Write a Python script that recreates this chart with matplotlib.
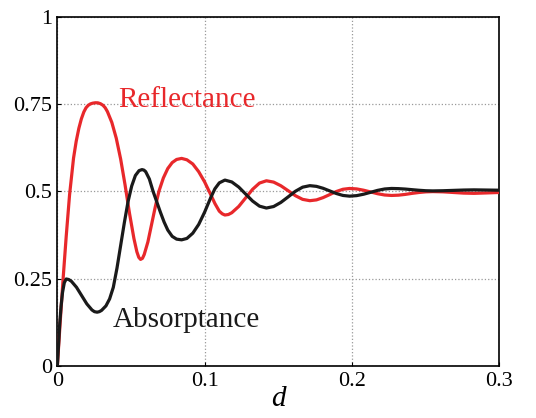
import matplotlib
matplotlib.use('Agg')
import matplotlib.pyplot as plt

# values
refl_x = [0.0, 0.001, 0.002, 0.004, 0.006, 0.0083, 0.011, 0.0128, 0.0146, 0.0163,
          0.018, 0.0195, 0.021, 0.0225, 0.024, 0.0258, 0.0275, 0.0293, 0.031, 0.0325,
          0.034, 0.037, 0.040, 0.043, 0.046, 0.049, 0.052,
          0.054, 0.0553, 0.0565, 0.0578, 0.059, 0.0615, 0.064, 0.0665, 0.069, 0.072, 0.075, 0.078,
          0.081, 0.0844, 0.088, 0.092, 0.096, 0.100, 0.104, 0.107, 0.110, 0.112, 0.1138,
          0.1162, 0.1185, 0.1232, 0.1279, 0.1326, 0.1373, 0.142,
          0.1469, 0.1518, 0.1568, 0.1617, 0.1666, 0.1715,
          0.176, 0.1805, 0.185, 0.1895, 0.194, 0.1985,
          0.2033, 0.208, 0.2128, 0.2175, 0.2223, 0.227,
          0.2317, 0.2363, 0.241, 0.2457, 0.2503, 0.255,
          0.262, 0.269, 0.276, 0.283, 0.2915, 0.3]
refl_y = [0.0, 0.065, 0.13, 0.255, 0.37, 0.49, 0.595, 0.643, 0.68, 0.707,
          0.727, 0.739, 0.746, 0.750, 0.752, 0.7532, 0.753, 0.7505, 0.746, 0.739,
          0.728, 0.697, 0.652, 0.592, 0.518, 0.437, 0.365,
          0.327, 0.311, 0.305, 0.308, 0.319, 0.355, 0.405, 0.455, 0.500, 0.538, 0.565, 0.582,
          0.591, 0.594, 0.590, 0.578, 0.556, 0.527, 0.492, 0.465, 0.443, 0.4355, 0.432,
          0.4335, 0.4386, 0.4565, 0.481, 0.5055, 0.5234, 0.530,
          0.5262, 0.5158, 0.5015, 0.4873, 0.4768, 0.473,
          0.4753, 0.4818, 0.4905, 0.4993, 0.5057, 0.508,
          0.5067, 0.503, 0.498, 0.493, 0.4893, 0.488,
          0.4888, 0.491, 0.494, 0.4965, 0.4983, 0.499,
          0.4983, 0.4965, 0.4947, 0.494, 0.4952, 0.4965]

abs_x = [0.0, 0.0008, 0.0016, 0.0025, 0.0035, 0.0047, 0.006, 0.0077, 0.0095, 0.013, 0.0165,
         0.020, 0.0235, 0.0252, 0.027, 0.0285, 0.030, 0.033, 0.0355, 0.038, 0.0405, 0.043, 0.0455,
         0.048, 0.0505, 0.053, 0.0555, 0.0575, 0.0588, 0.060, 0.0625, 0.065, 0.0675, 0.070,
         0.0725, 0.075, 0.078, 0.081, 0.0844, 0.088, 0.092, 0.096, 0.100, 0.104,
         0.107, 0.110, 0.1138,
         0.1185, 0.1232, 0.1279, 0.1326, 0.1373, 0.142,
         0.1469, 0.1518, 0.1568, 0.1617, 0.1666, 0.1715,
         0.176, 0.1805, 0.185, 0.1895, 0.194, 0.1985,
         0.2033, 0.208, 0.2128, 0.2175, 0.2223, 0.227,
         0.2317, 0.2363, 0.241, 0.2457, 0.2503, 0.255,
         0.262, 0.269, 0.276, 0.283, 0.2915, 0.3]
abs_y = [0.0, 0.06, 0.12, 0.17, 0.21, 0.238, 0.249, 0.2475, 0.2426, 0.2253, 0.2015,
         0.1778, 0.1604, 0.1555, 0.154, 0.1555, 0.159, 0.172, 0.192, 0.225, 0.280, 0.345, 0.410,
         0.470, 0.515, 0.545, 0.559, 0.562, 0.5605, 0.556, 0.535, 0.500, 0.470, 0.440,
         0.412, 0.389, 0.371, 0.363, 0.361, 0.365, 0.380, 0.405, 0.440, 0.480,
         0.507, 0.524, 0.532,
         0.5266, 0.512, 0.492, 0.472, 0.4574, 0.452,
         0.4563, 0.468, 0.484, 0.500, 0.5117, 0.516,
         0.514, 0.5085, 0.501, 0.4935, 0.488, 0.486,
         0.4875, 0.4915, 0.497, 0.5025, 0.5065, 0.508,
         0.5075, 0.5063, 0.5045, 0.5028, 0.5015, 0.501,
         0.5015, 0.5025, 0.5035, 0.504, 0.5035, 0.503]

x_ticks = [0, 0.1, 0.2, 0.3]
x_tick_labels = ['0', '0.1', '0.2', '0.3']
y_ticks = [0, 0.25, 0.5, 0.75, 1]
y_tick_labels = ['0', '0.25', '0.5', '0.75', '1']

red = '#e8282b'
black = '#1a1a1a'

plt.rcParams['font.family'] = ['Liberation Serif', 'DejaVu Serif']

fig = plt.figure(figsize=(5.36, 4.18), dpi=100)
ax = fig.add_axes([0.107, 0.1244, 0.824, 0.8361])

ax.plot(refl_x, refl_y, color=red, lw=2.3, solid_capstyle='round',
        solid_joinstyle='round', zorder=3)
ax.plot(abs_x, abs_y, color=black, lw=2.3, solid_capstyle='round',
        solid_joinstyle='round', zorder=4)

ax.set_xlim(0, 0.3)
ax.set_ylim(0, 1)
ax.set_xticks(x_ticks)
ax.set_xticklabels(x_tick_labels)
ax.set_yticks(y_ticks)
ax.set_yticklabels(y_tick_labels)
ax.tick_params(direction='in', length=3, width=0.8, labelsize=16, pad=4)
ax.grid(True, linestyle=':', color='#999999', linewidth=0.9)
for s in ax.spines.values():
    s.set_linewidth(1.2)

ax.text(0.0411, 0.742, 'Reflectance', color=red, fontsize=21, ha='left', va='baseline')
ax.text(0.0377, 0.1116, 'Absorptance', color=black, fontsize=21, ha='left', va='baseline')
ax.set_xlabel('d', fontsize=21, fontstyle='italic', labelpad=-3)

fig.savefig('out.png', dpi=100)
